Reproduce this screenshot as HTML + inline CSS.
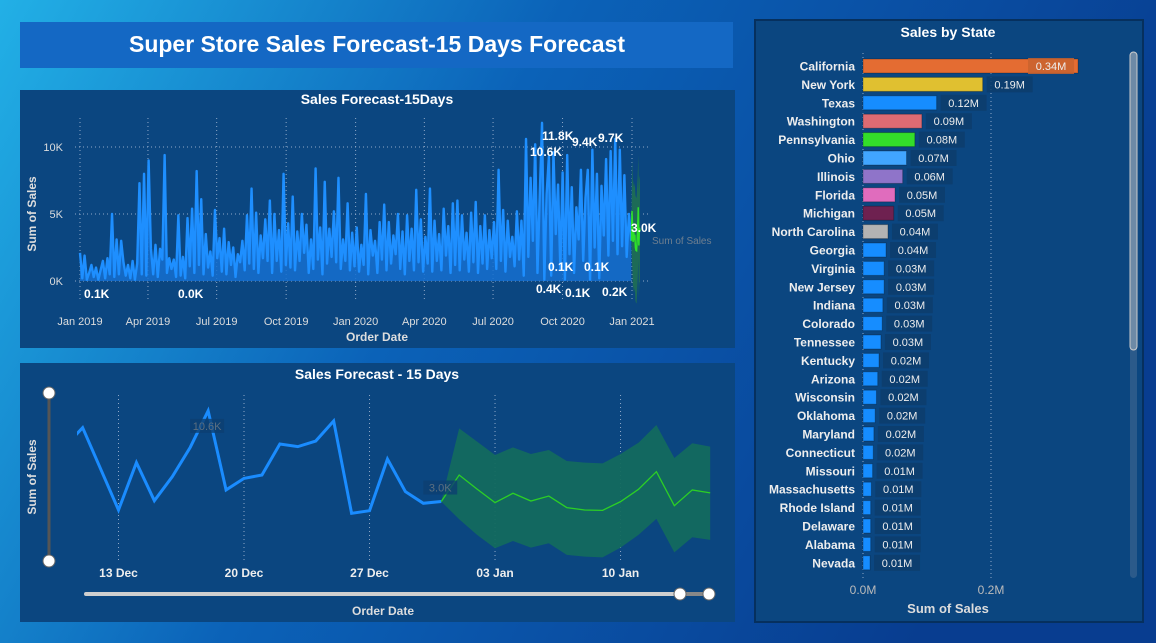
<!DOCTYPE html>
<html><head><meta charset="utf-8"><style>
html,body{margin:0;padding:0;width:1156px;height:643px;overflow:hidden;font-family:"Liberation Sans Narrow","Liberation Sans",sans-serif;}
svg text{font-family:"Liberation Sans Narrow","Liberation Sans",sans-serif;}
</style></head><body>
<svg id="root" width="1156" height="643" xmlns="http://www.w3.org/2000/svg">
<defs>
<linearGradient id="bg" x1="0" y1="0" x2="1" y2="0.3">
<stop offset="0" stop-color="#22b0e6"/><stop offset="0.45" stop-color="#0b62b8"/><stop offset="1" stop-color="#083d90"/>
</linearGradient>
<clipPath id="clipTop"><rect x="75" y="115" width="580" height="200"/></clipPath>
<clipPath id="clipBot"><rect x="77" y="385" width="635" height="175"/></clipPath>
</defs>
<rect width="1156" height="643" fill="url(#bg)"/>
<rect x="20" y="22" width="713" height="46" fill="#1468c4"/>
<text x="377" y="52" text-anchor="middle" font-size="23" font-weight="bold" fill="#fff">Super Store Sales Forecast-15 Days Forecast</text>

<g id="top">
<rect x="20" y="90" width="715" height="258" fill="#0b4680"/>
<text x="377" y="104" text-anchor="middle" font-size="14" font-weight="bold" fill="#fff">Sales Forecast-15Days</text>
<text transform="translate(36,214) rotate(-90)" text-anchor="middle" font-size="12" font-weight="bold" fill="#ddd">Sum of Sales</text>
<text x="377" y="341" text-anchor="middle" font-size="12" font-weight="bold" fill="#ddd">Order Date</text>
<text x="652" y="244" font-size="10" fill="#6f7f8f">Sum of Sales</text>
</g>

<g id="bot">
<rect x="20" y="363" width="715" height="259" fill="#0b4680"/>
<text x="377" y="379" text-anchor="middle" font-size="14" font-weight="bold" fill="#fff">Sales Forecast - 15 Days</text>
<text transform="translate(36,477) rotate(-90)" text-anchor="middle" font-size="12" font-weight="bold" fill="#ddd">Sum of Sales</text>
<text x="383" y="615" text-anchor="middle" font-size="12" font-weight="bold" fill="#ddd">Order Date</text>
<line x1="49" y1="393" x2="49" y2="561" stroke="#555" stroke-width="3"/>
<circle cx="49" cy="393" r="6" fill="#fff" stroke="#666"/>
<circle cx="49" cy="561" r="6" fill="#fff" stroke="#666"/>
<line x1="86" y1="594" x2="680" y2="594" stroke="#cfcfcf" stroke-width="4" stroke-linecap="round"/>
<line x1="680" y1="594" x2="709" y2="594" stroke="#888" stroke-width="4"/>
<circle cx="680" cy="594" r="6" fill="#fff" stroke="#666"/>
<circle cx="709" cy="594" r="6" fill="#fff" stroke="#666"/>
</g>

<g id="right">
<rect x="755" y="20" width="388" height="602" fill="#0b4680" stroke="#06305e" stroke-width="2"/>
<text x="948" y="37" text-anchor="middle" font-size="14" font-weight="bold" fill="#fff">Sales by State</text>
<text x="948" y="613" text-anchor="middle" font-size="13" font-weight="bold" fill="#ddd">Sum of Sales</text>
<rect x="1130" y="52" width="7" height="526" rx="3.5" fill="#2b5a8a"/>
<rect x="1130" y="52" width="7" height="298" rx="3.5" fill="#6d8aa6" stroke="#ccc"/>
</g>
</svg>
<script>
const NS='http://www.w3.org/2000/svg';
// ---- Top chart data ----
const topMonthLabels=['Jan 2019','Apr 2019','Jul 2019','Oct 2019','Jan 2020','Apr 2020','Jul 2020','Oct 2020','Jan 2021'];
const topMonthDays=[0,90,181,273,365,456,547,639,731];
const topYTicks=[0,5,10];
const topYTickLabels=['0K','5K','10K'];
const topSales=[
2.1,0.2,1.9,0.1,0.6,1.2,0.3,1.0,0.1,0.8,
1.5,0.2,1.7,0.5,5.0,0.3,3.1,0.5,3.0,1.4,
0.4,1.2,0.2,1.5,0.1,1.3,7.3,0.5,8.0,0.4,9.0,2.4,
0.5,2.7,0.3,2.4,1.6,9.4,0.6,1.7,0.9,1.6,
0.3,4.9,0.4,1.8,0.2,4.7,1.1,5.4,0.6,8.2,
1.2,6.1,0.5,3.5,1.0,2.2,0.4,5.3,1.7,3.2,
0.7,3.9,0.5,2.9,1.2,2.5,0.3,2.0,1.4,3.0,
0.8,4.9,1.3,6.9,0.9,5.1,0.6,3.4,1.7,4.6,
1.5,6.0,0.6,5.0,1.5,3.8,0.7,8.0,1.2,4.3,
1.0,6.3,0.8,3.7,1.5,5.0,2.1,4.2,0.6,3.1,
0.9,8.4,1.6,4.0,0.5,7.4,1.3,3.9,1.8,5.2,
1.4,7.7,0.9,3.1,1.5,5.8,0.8,3.6,1.1,4.0,
0.7,2.7,1.2,6.5,0.5,3.8,1.9,3.0,0.6,4.4,
1.6,5.7,0.8,4.4,1.3,3.4,2.0,5.0,0.9,3.7,
0.5,4.9,1.5,3.9,0.8,6.8,1.4,4.6,0.7,3.3,
1.3,6.9,0.7,4.5,1.5,3.5,0.8,5.4,1.9,4.1,
0.6,5.8,1.2,6.0,0.8,4.9,1.6,3.6,0.7,5.1,
1.4,5.9,0.6,4.1,1.3,4.9,0.9,3.8,1.7,4.4,
0.9,8.3,1.5,5.3,0.7,4.5,1.8,3.3,1.1,5.2,
1.6,4.5,0.4,10.6,1.8,7.7,3.0,10.2,0.6,6.4,
11.8,0.1,6.5,9.3,0.4,9.6,3.5,7.2,0.9,8.1,
0.1,9.4,2.0,7.0,0.6,5.5,3.1,8.3,1.5,6.2,
8.3,0.1,9.8,2.5,8.0,0.2,7.1,3.4,9.1,1.9,
9.7,3.0,10.6,2.0,9.8,2.6,7.9,1.8,5.0,3.0];
const topLabels=[['0.1K',84,298],['0.0K',178,298],['10.6K',530,156],['11.8K',542,140],['9.4K',572,146],['9.7K',598,142],['0.1K',548,271],['0.1K',584,271],['0.4K',536,293],['0.1K',565,297],['0.2K',602,296],['3.0K',631,232]];
// ---- Bottom chart data ----
const botTickLabels=['13 Dec','20 Dec','27 Dec','03 Jan','10 Jan'];
const botTickDays=[13,20,27,34,41];
const histDays=[10,11,13,14,15,16,17,18,19,20,21,22,23,24,25,26,27,28,29,30,31];
const histSales=[7.6,9.19,2.29,6.26,3.07,5.08,7.54,10.6,3.97,4.94,5.22,7.82,7.6,8.07,9.75,2.01,2.23,6.56,3.83,2.85,3.0];
const fcDays=[31,32,33,34,35,36,37,38,39,40,41,42,43,44,45,46];
const fcSales=[3.0,5.22,4.04,2.91,3.69,3.04,3.46,2.49,2.29,2.26,2.99,4.02,5.5,2.65,3.97,3.72];
const fcUpper=[3.0,9.13,8.02,6.9,7.54,6.98,7.32,6.4,6.26,6.2,6.98,7.93,9.41,6.65,7.88,7.6];
const fcLower=[3.0,1.51,0.2,-0.92,-0.31,-0.87,-0.5,-1.47,-1.62,-1.68,-0.87,0.2,1.54,-1.26,0,-0.22];
// ---- State chart data ----
const states=['California','New York','Texas','Washington','Pennsylvania','Ohio','Illinois','Florida','Michigan','North Carolina','Georgia','Virginia','New Jersey','Indiana','Colorado','Tennessee','Kentucky','Arizona','Wisconsin','Oklahoma','Maryland','Connecticut','Missouri','Massachusetts','Rhode Island','Delaware','Alabama','Nevada'];
const stateSales=[0.336,0.187,0.115,0.092,0.081,0.068,0.062,0.05,0.048,0.039,0.036,0.033,0.033,0.031,0.03,0.028,0.025,0.023,0.021,0.019,0.017,0.016,0.015,0.013,0.012,0.012,0.012,0.011];
const stateValueLabels=['0.34M','0.19M','0.12M','0.09M','0.08M','0.07M','0.06M','0.05M','0.05M','0.04M','0.04M','0.03M','0.03M','0.03M','0.03M','0.03M','0.02M','0.02M','0.02M','0.02M','0.02M','0.02M','0.01M','0.01M','0.01M','0.01M','0.01M','0.01M'];
const stateColors=['#e46c32','#e0c030','#168dff','#dc6b73','#33dd2a','#41a5ff','#8f74c9','#e06cbd','#6e2150','#b3b3b3'];
const stateXTicks=[0,0.2];
const stateXTickLabels=['0.0M','0.2M'];

function mk(tag,attrs,parent,txt){const e=document.createElementNS(NS,tag);for(const k in attrs)e.setAttribute(k,attrs[k]);if(txt!==undefined)e.textContent=txt;parent.appendChild(e);return e;}

// Top chart
const gTop=document.getElementById('top');
const tx=d=>80+d*(632-80)/731, ty=v=>281-13.4*v;
topMonthDays.forEach((d,i)=>{
  const l=mk('line',{x1:tx(d),x2:tx(d),y1:118,y2:300,stroke:'#8fa8c8','stroke-dasharray':'1 3'},gTop);
  
  
  const t=mk('text',{x:tx(d),y:325,'text-anchor':'middle','font-size':11,fill:'#ddd'},gTop,topMonthLabels[i]);
  
  
});
topYTicks.forEach((v,i)=>{
  const l=mk('line',{x1:75,x2:648,y1:ty(v),y2:ty(v),stroke:'#8fa8c8','stroke-dasharray':'1 3'},gTop);
  
  
  const t=mk('text',{x:63,y:ty(v)+4,'text-anchor':'end','font-size':11,fill:'#ddd'},gTop,topYTickLabels[i]);
  
  
});
const n=topSales.length;
const pts=topSales.map((v,i)=>[tx(i*730/(n-1)),ty(v)]);
const gc=mk('g',{'clip-path':'url(#clipTop)'},gTop);
const area=mk('path',{d:'M'+pts[0][0]+','+ty(0)+' L'+pts.map(p=>p.join(',')).join(' L')+' L'+pts[n-1][0]+','+ty(0)+'Z',fill:'#1670d0',opacity:0.85},gc);


const line=mk('polyline',{points:pts.map(p=>p.join(',')).join(' '),fill:'none',stroke:'#1e8fff','stroke-width':2.4,'stroke-linejoin':'round'},gc);


const txf=d=>tx(731+(d-32)*0.755);
const band=fcDays.map((d,i)=>[txf(d),ty(fcUpper[i])]).concat(fcDays.map((d,i)=>[txf(d),ty(fcLower[i])]).reverse());
const tb=mk('polygon',{points:band.map(p=>p.join(',')).join(' '),fill:'#1d6b57'},gc);


const tf=mk('polyline',{points:fcDays.map((d,i)=>txf(d)+','+ty(fcSales[i])).join(' '),fill:'none',stroke:'#2ee02a','stroke-width':1.5},gc);


topLabels.forEach(a=>{
  const t=mk('text',{x:a[1],y:a[2],'font-size':12,'font-weight':'bold',fill:'#fff'},gTop,a[0]);
  
  
});

// Bottom chart
const gBot=document.getElementById('bot');
const bx=d=>118.5+(d-13)*17.93, by=v=>537.3-11.93*v;
botTickDays.forEach((d,i)=>{
  const l=mk('line',{x1:bx(d),x2:bx(d),y1:395,y2:560,stroke:'#8fa8c8','stroke-dasharray':'1 3'},gBot);
  
  
  const t=mk('text',{x:bx(d),y:577,'text-anchor':'middle','font-size':12,'font-weight':'bold',fill:'#eee'},gBot,botTickLabels[i]);
  
  
});
const gb=mk('g',{'clip-path':'url(#clipBot)'},gBot);
const bb=fcDays.map((d,i)=>[bx(d),by(fcUpper[i])]).concat(fcDays.map((d,i)=>[bx(d),by(fcLower[i])]).reverse());
const bband=mk('polygon',{points:bb.map(p=>p.join(',')).join(' '),fill:'#136a5e',opacity:0.95},gb);


const hl=mk('polyline',{points:histDays.map((d,i)=>bx(d)+','+by(histSales[i])).join(' '),fill:'none',stroke:'#1a8cff','stroke-width':3,'stroke-linejoin':'miter'},gb);


const fl=mk('polyline',{points:fcDays.map((d,i)=>bx(d)+','+by(fcSales[i])).join(' '),fill:'none',stroke:'#2ccf25','stroke-width':1.3},gb);


[[7,'10.6K',8],[20,'3.0K',-21]].forEach(a=>{
  const d=histDays[a[0]],v=histSales[a[0]];
  const r=mk('rect',{x:bx(d)-18,y:by(v)+a[2],width:34,height:14,fill:'#0d3f70',opacity:0.8},gBot);
  
  
  const t=mk('text',{x:bx(d)-1,y:by(v)+a[2]+11,'text-anchor':'middle','font-size':11,fill:'#5c6f80'},gBot,a[1]);
  
  
});

// State chart
const gR=document.getElementById('right');
const sx=v=>863+v*640, rowY=i=>66+i*18.4;
stateXTicks.forEach((v,i)=>{
  const l=mk('line',{x1:sx(v),x2:sx(v),y1:53,y2:578,stroke:'#8fa8c8','stroke-dasharray':'1 3'},gR);
  
  
  const t=mk('text',{x:sx(v),y:594,'text-anchor':'middle','font-size':12,fill:'#bbb'},gR,stateXTickLabels[i]);
  
  
});
states.forEach((s,i)=>{
  const y=rowY(i), c=stateColors[i]||'#168dff', w=sx(stateSales[i])-sx(0);
  const lab=mk('text',{x:855,y:y+4.5,'text-anchor':'end','font-size':12,'font-weight':'bold',fill:'#eee'},gR,s);
  
  
  const b=mk('rect',{x:sx(0),y:y-7,width:w,height:14,fill:c,stroke:'rgba(0,0,0,0.25)'},gR);
  
  
  const inside=i===0;
  const lx=inside?sx(stateSales[i])-50:sx(stateSales[i])+4;
  const bg=mk('rect',{x:lx,y:y-8,width:46,height:16,fill:inside?'#c9632f':'#0d3d6c',opacity:0.85},gR);
  
  
  const v=mk('text',{x:lx+23,y:y+4,'text-anchor':'middle','font-size':11,fill:'#eee'},gR,stateValueLabels[i]);
  
  
});
</script>
</body></html>
